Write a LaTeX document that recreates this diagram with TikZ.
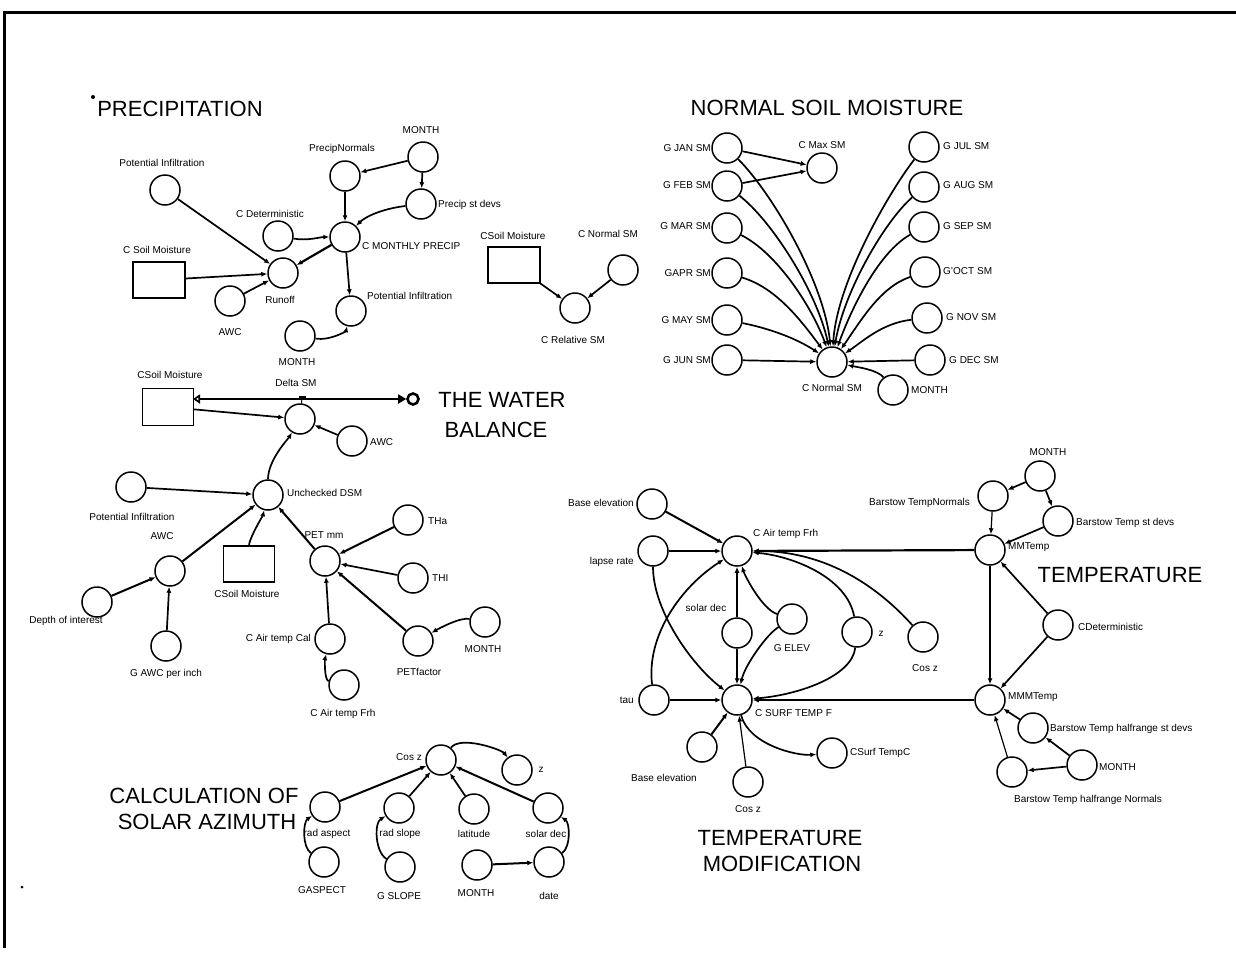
\documentclass[tikz,border=0pt]{standalone}
\usepackage{fontspec}
\setmainfont{Liberation Sans}
\usetikzlibrary{arrows.meta}
\begin{document}
\begin{tikzpicture}[x=1pt,y=-1pt,
  c/.style={circle,draw,line width=1.5pt,minimum size=30pt,inner sep=0pt},
  bx/.style={draw,line width=1.3pt,minimum width=52pt,minimum height=36pt,inner sep=0pt},
  lb/.style={font=\fontsize{10}{11}\selectfont,inner sep=0pt},
  ttl/.style={font=\fontsize{22}{26}\selectfont,inner sep=0pt},
  ar/.style={line width=1.7pt,-{Latex[length=6pt,width=5pt]}},
  fr/.style={line width=3pt},
]
\useasboundingbox (0,0) rectangle (1236,959);
% frame
\coordinate (f1) at (1236,12);
\coordinate (f2) at (4,12);
\coordinate (f3) at (4,948);
\draw[fr] (f1) -- (f2) -- (f3);
\fill (93,97) circle (2pt);
\fill (22,887) circle (1.5pt);

% ===== PRECIPITATION =====
\node[ttl] (tP) at (180,109) {PRECIPITATION};
\node[c] (pPI) at (165,190) {};
\node[lb] (LpPI) at (162,163) {Potential Infiltration};
\node[c] (pMon) at (423,157) {};
\node[lb] (LpMon) at (421,130) {MONTH};
\node[c] (pPN) at (345,176) {};
\node[lb] (LpPN) at (342,149) {PrecipNormals};
\node[c] (pPSD) at (421,204) {};
\node[lb,anchor=west] (LpPSD) at (438,205) {Precip st devs};
\node[c] (pCD) at (278,236) {};
\node[lb] (LpCD) at (270,214) {C Deterministic};
\node[c] (pCMP) at (345,237) {};
\node[lb,anchor=west] (LpCMP) at (362,246) {C MONTHLY PRECIP};
\node[bx] (pSM) at (159,280) {};
\node[lb] (LpSM) at (157,250) {C Soil Moisture};
\node[c] (pRO) at (283,273) {};
\node[lb] (LpRO) at (280,300) {Runoff};
\node[c] (pAWC) at (230,301) {};
\node[lb] (LpAWC) at (230,332) {AWC};
\node[c] (pPI2) at (351,311) {};
\node[lb,anchor=west] (LpPI2) at (367,296) {Potential Infiltration};
\node[c] (pMon2) at (300,336) {};
\node[lb] (LpMon2) at (297,362) {MONTH};

\draw[ar] (pPI) -- (pRO);
\draw[ar] (pSM) -- (pRO);
\draw[ar] (pMon) -- (pPN);
\draw[ar] (pMon) -- (pPSD);
\draw[ar] (pPN) -- (pCMP);
\draw[ar] (pPSD) .. controls +(-40,5) and +(20,-20) .. (pCMP);
\draw[ar] (pCD) .. controls +(30,5) and +(-25,0) .. (pCMP);
\draw[ar,line width=2.2pt] (pCMP) -- (pRO);
\draw[ar] (pAWC) -- (pRO);
\draw[ar] (pCMP) -- (pPI2);
\draw[ar] (pMon2) .. controls +(30,5) and +(-5,20) .. (pPI2);

% ===== relative SM =====
\node[bx] (rSM) at (514,265) {};
\node[lb] (LrSM) at (513,236) {CSoil Moisture};
\node[c] (rNSM) at (623,270) {};
\node[lb] (LrNSM) at (608,234) {C Normal SM};
\node[c] (rRSM) at (575,308) {};
\node[lb] (LrRSM) at (573,340) {C Relative SM};
\draw[ar] (rSM.south east) -- (rRSM);
\draw[ar] (rNSM) -- (rRSM);

% ===== NORMAL SOIL MOISTURE =====
\node[ttl] (tN) at (827,108) {NORMAL SOIL MOISTURE};
\node[c] (nJan) at (727,148) {};
\node[lb,anchor=east] (LnJan) at (711,148) {G JAN SM};
\node[c] (nFeb) at (727,186) {};
\node[lb,anchor=east] (LnFeb) at (711,185) {G FEB SM};
\node[c] (nMar) at (727,228) {};
\node[lb,anchor=east] (LnMar) at (711,226) {G MAR SM};
\node[c] (nApr) at (727,273) {};
\node[lb,anchor=east] (LnApr) at (711,273) {GAPR SM};
\node[c] (nMay) at (727,320) {};
\node[lb,anchor=east] (LnMay) at (711,320) {G MAY SM};
\node[c] (nJun) at (727,360) {};
\node[lb,anchor=east] (LnJun) at (711,360) {G JUN SM};
\node[c] (nJul) at (924,147) {};
\node[lb,anchor=west] (LnJul) at (943,146) {G JUL SM};
\node[c] (nAug) at (924,187) {};
\node[lb,anchor=west] (LnAug) at (943,185) {G AUG SM};
\node[c] (nSep) at (924,227) {};
\node[lb,anchor=west] (LnSep) at (943,226) {G SEP SM};
\node[c] (nOct) at (925,272) {};
\node[lb,anchor=west] (LnOct) at (943,271) {G'OCT SM};
\node[c] (nNov) at (927,318) {};
\node[lb,anchor=west] (LnNov) at (946,317) {G NOV SM};
\node[c] (nDec) at (930,360) {};
\node[lb,anchor=west] (LnDec) at (949,360) {G DEC SM};
\node[c] (nMax) at (822,168) {};
\node[lb] (LnMax) at (822,145) {C Max SM};
\node[c] (nNSM) at (832,362) {};
\node[lb] (LnNSM) at (832,388) {C Normal SM};
\node[c] (nMon) at (893,390) {};
\node[lb,anchor=west] (LnMon) at (911,390) {MONTH};

\draw[ar] (nJan) -- (nMax);
\draw[ar] (nFeb) -- (nMax);
\draw[ar] (nJan) .. controls +(45,45) and +(-8,-80) .. (nNSM);
\draw[ar] (nFeb) .. controls +(45,35) and +(-15,-70) .. (nNSM);
\draw[ar] (nMar) .. controls +(50,25) and +(-20,-55) .. (nNSM);
\draw[ar] (nApr) .. controls +(50,15) and +(-30,-40) .. (nNSM);
\draw[ar] (nMay) .. controls +(50,10) and +(-30,-20) .. (nNSM);
\draw[ar] (nJun) -- (nNSM);
\draw[ar] (nJul) .. controls +(-35,45) and +(5,-80) .. (nNSM);
\draw[ar] (nAug) .. controls +(-40,35) and +(12,-70) .. (nNSM);
\draw[ar] (nSep) .. controls +(-45,25) and +(20,-55) .. (nNSM);
\draw[ar] (nOct) .. controls +(-45,15) and +(28,-40) .. (nNSM);
\draw[ar] (nNov) .. controls +(-45,5) and +(30,-20) .. (nNSM);
\draw[ar] (nDec) -- (nNSM);
\draw[ar] (nMon) .. controls +(-15,-20) and +(25,5) .. (nNSM);

% ===== WATER BALANCE =====
\node[ttl] (tW1) at (502,400) {THE WATER};
\node[ttl] (tW2) at (496,430) {BALANCE};
\node[bx,minimum width=51pt,minimum height=37pt] (wb1) at (168,407) {};
\node[lb] (Lwb1) at (170,375) {CSoil Moisture};
\node[c] (wDSM) at (300,419) {};
\node[lb] (LwDSM) at (296,383) {Delta SM};
\node[fill,minimum width=7pt,minimum height=4pt,inner sep=0pt] (valve) at (302,398) {};
\node[circle,draw,line width=2.6pt,minimum size=11pt,inner sep=0pt] (cloud) at (413,399) {};
\coordinate (fL) at (193,399);
\draw[line width=1.7pt,{Triangle[open,length=7pt,width=9pt]}-{Triangle[length=8pt,width=9pt]}] (fL) -- (cloud);
\draw[line width=1pt] (valve) -- (wDSM);
\node[c] (wAWC) at (352,441) {};
\node[lb,anchor=west] (LwAWC) at (370,442) {AWC};
\node[c] (wUDSM) at (268,495) {};
\node[lb,anchor=west] (LwUDSM) at (287,493) {Unchecked DSM};
\node[c] (wPI) at (131,487) {};
\node[lb] (LwPI) at (132,517) {Potential Infiltration};
\node[c] (wAWC2) at (170,571) {};
\node[lb] (LwAWC2) at (162,536) {AWC};
\node[bx,minimum width=51pt,minimum height=36pt] (wb2) at (249,564) {};
\node[lb] (Lwb2) at (247,594) {CSoil Moisture};
\node[c] (wPET) at (325,561) {};
\node[lb] (LwPET) at (324,535) {PET mm};
\node[c] (wTHa) at (408,520) {};
\node[lb,anchor=west] (LwTHa) at (428,521) {THa};
\node[c] (wTHI) at (413,578) {};
\node[lb,anchor=west] (LwTHI) at (432,578) {THI};
\node[c] (wDoI) at (97,602) {};
\node[lb] (LwDoI) at (66,621) {Depth of interest};
\node[c] (wGAWC) at (166,646) {};
\node[lb] (LwGAWC) at (166,674) {G AWC per inch};
\node[c] (wCal) at (330,639) {};
\node[lb,anchor=east] (LwCal) at (311,639) {C Air temp Cal};
\node[c] (wFrh) at (344,685) {};
\node[lb] (LwFrh) at (343,714) {C Air temp Frh};
\node[c] (wPF) at (418,641) {};
\node[lb] (LwPF) at (419,672) {PETfactor};
\node[c] (wMon) at (485,622) {};
\node[lb] (LwMon) at (483,649) {MONTH};

\draw[ar] (wb1) -- (wDSM);
\draw[ar] (wAWC) -- (wDSM);
\draw[ar] (wUDSM) .. controls +(0,-35) and +(-12,20) .. (wDSM);
\draw[ar] (wPI) -- (wUDSM);
\draw[ar,line width=2pt] (wAWC2) -- (wUDSM);
\draw[ar] (wb2) .. controls +(0,-25) and +(-5,20) .. (wUDSM);
\draw[ar,line width=2pt] (wPET) -- (wUDSM);
\draw[ar,line width=2pt] (wTHa) -- (wPET);
\draw[ar] (wTHI) -- (wPET);
\draw[ar,line width=2pt] (wPF) -- (wPET);
\draw[ar] (wCal) -- (wPET);
\draw[ar] (wMon) .. controls +(-25,-5) and +(20,-12) .. (wPF);
\draw[ar] (wFrh) .. controls +(-20,-5) and +(-5,20) .. (wCal);
\draw[ar,line width=2pt] (wDoI) -- (wAWC2);
\draw[ar] (wGAWC) -- (wAWC2);

% ===== TEMPERATURE =====
\node[ttl] (tT) at (1120,575) {TEMPERATURE};
\node[ttl] (tTM1) at (780,838) {TEMPERATURE};
\node[ttl] (tTM2) at (782,864) {MODIFICATION};
\node[c] (tBE) at (652,504) {};
\node[lb,anchor=east] (LtBE) at (634,503) {Base elevation};
\node[c] (tLR) at (653,551) {};
\node[lb,anchor=east] (LtLR) at (634,562) {lapse rate};
\node[c] (tFrh) at (737,551) {};
\node[lb,anchor=west] (LtFrh) at (753,534) {C Air temp Frh};
\node[c] (tSD) at (737,633) {};
\node[lb] (LtSD) at (706,608) {solar dec};
\node[c] (tGE) at (792,619) {};
\node[lb] (LtGE) at (792,648) {G ELEV};
\node[c] (tZ) at (857,632) {};
\node[lb] (LtZ) at (881,634) {z};
\node[c] (tCos) at (923,637) {};
\node[lb] (LtCos) at (925,668) {Cos z};
\node[c] (tTau) at (654,700) {};
\node[lb,anchor=east] (LtTau) at (634,700) {tau};
\node[c] (tSurf) at (737,700) {};
\node[lb,anchor=west] (LtSurf) at (755,713) {C SURF TEMP F};
\node[c] (tBE2) at (702,747) {};
\node[lb] (LtBE2) at (664,778) {Base elevation};
\node[c] (tCos2) at (748,782) {};
\node[lb] (LtCos2) at (748,809) {Cos z};
\node[c] (tCST) at (832,753) {};
\node[lb,anchor=west] (LtCST) at (850,753) {CSurf TempC};
\node[c] (tMon) at (1040,476) {};
\node[lb] (LtMon) at (1048,452) {MONTH};
\node[c] (tBTN) at (993,496) {};
\node[lb,anchor=east] (LtBTN) at (970,503) {Barstow TempNormals};
\node[c] (tBSD) at (1058,521) {};
\node[lb,anchor=west] (LtBSD) at (1076,523) {Barstow Temp st devs};
\node[c] (tMM) at (990,550) {};
\node[lb,anchor=west] (LtMM) at (1008,547) {MMTemp};
\node[c] (tCDet) at (1058,625) {};
\node[lb,anchor=west] (LtCDet) at (1078,627) {CDeterministic};
\node[c] (tMMM) at (990,700) {};
\node[lb,anchor=west] (LtMMM) at (1008,697) {MMMTemp};
\node[c] (tHSD) at (1033,728) {};
\node[lb,anchor=west] (LtHSD) at (1050,729) {Barstow Temp halfrange st devs};
\node[c] (tMon2) at (1082,765) {};
\node[lb,anchor=west] (LtMon2) at (1099,767) {MONTH};
\node[c] (tHN) at (1012,772) {};
\node[lb] (LtHN) at (1088,800) {Barstow Temp halfrange Normals};

\draw[ar,line width=2pt] (tBE) -- (tFrh);
\draw[ar] (tLR) -- (tFrh);
\draw[ar] (tLR) .. controls +(0,60) and +(-45,-35) .. (tSurf);
\draw[ar] (tTau) .. controls +(-8,-65) and +(-55,35) .. (tFrh);
\draw[ar] (tTau) -- (tSurf);
\draw[ar,line width=2.2pt] (tMM) -- (tFrh);
\draw[ar,line width=1.2pt] (tSD) -- (tFrh);
\draw[ar,line width=1.2pt] (tSD) -- (tSurf);
\draw[ar] (tGE) .. controls +(-30,-10) and +(8,25) .. (tFrh);
\draw[ar] (tGE) .. controls +(-25,15) and +(8,-35) .. (tSurf);
\draw[ar] (tZ) .. controls +(-10,-55) and +(55,5) .. (tFrh);
\draw[ar] (tZ) .. controls +(-5,45) and +(60,-5) .. (tSurf);
\draw[ar] (tCos) .. controls +(-45,-50) and +(90,0) .. (tFrh);
\draw[ar,line width=2.2pt] (tMMM) -- (tSurf);
\draw[ar,line width=1.2pt] (tMM) -- (tMMM);
\draw[ar] (tMon) -- (tBTN);
\draw[ar] (tMon) -- (tBSD);
\draw[ar,line width=1.2pt] (tBTN) -- (tMM);
\draw[ar] (tBSD) -- (tMM);
\draw[ar] (tCDet) -- (tMM);
\draw[ar] (tCDet) -- (tMMM);
\draw[ar] (tHSD) -- (tMMM);
\draw[ar,line width=1.2pt] (tHN) -- (tMMM);
\draw[ar] (tMon2) -- (tHSD);
\draw[ar] (tMon2) -- (tHN);
\draw[ar,line width=2pt] (tBE2) -- (tSurf);
\draw[ar,line width=1.2pt] (tCos2) -- (tSurf);
\draw[ar] (tSurf) .. controls +(12,45) and +(-35,3) .. (tCST);

% ===== SOLAR AZIMUTH =====
\node[ttl] (tS1) at (204,796) {CALCULATION OF};
\node[ttl] (tS2) at (207,822) {SOLAR AZIMUTH};
\node[c] (sCos) at (441,760) {};
\node[lb,anchor=east] (LsCos) at (422,757) {Cos z};
\node[c] (sZ) at (517,770) {};
\node[lb] (LsZ) at (541,770) {z};
\node[c] (sRA) at (325,807) {};
\node[lb] (LsRA) at (327,834) {rad aspect};
\node[c] (sRS) at (399,808) {};
\node[lb] (LsRS) at (400,834) {rad slope};
\node[c] (sLat) at (474,809) {};
\node[lb] (LsLat) at (474,834) {latitude};
\node[c] (sSD) at (548,808) {};
\node[lb] (LsSD) at (546,834) {solar dec};
\node[c] (sGA) at (324,862) {};
\node[lb] (LsGA) at (322,890) {GASPECT};
\node[c] (sGS) at (400,867) {};
\node[lb] (LsGS) at (399,896) {G SLOPE};
\node[c] (sMon) at (477,865) {};
\node[lb] (LsMon) at (476,893) {MONTH};
\node[c] (sDate) at (549,862) {};
\node[lb] (LsDate) at (549,896) {date};

\draw[ar,line width=2pt] (sRA) -- (sCos);
\draw[ar] (sRS) -- (sCos);
\draw[ar] (sLat) -- (sCos);
\draw[ar,line width=2pt] (sSD) -- (sCos);
\draw[ar] (sCos) .. controls +(20,-25) and +(-15,-20) .. (sZ);
\draw[ar] (sGA) .. controls +(-22,-15) and +(-22,15) .. (sRA);
\draw[ar] (sGS) .. controls +(-25,-15) and +(-25,15) .. (sRS);
\draw[ar,line width=2pt] (sMon) -- (sDate);
\draw[ar] (sDate) .. controls +(22,-15) and +(22,15) .. (sSD);
\end{tikzpicture}
\end{document}
